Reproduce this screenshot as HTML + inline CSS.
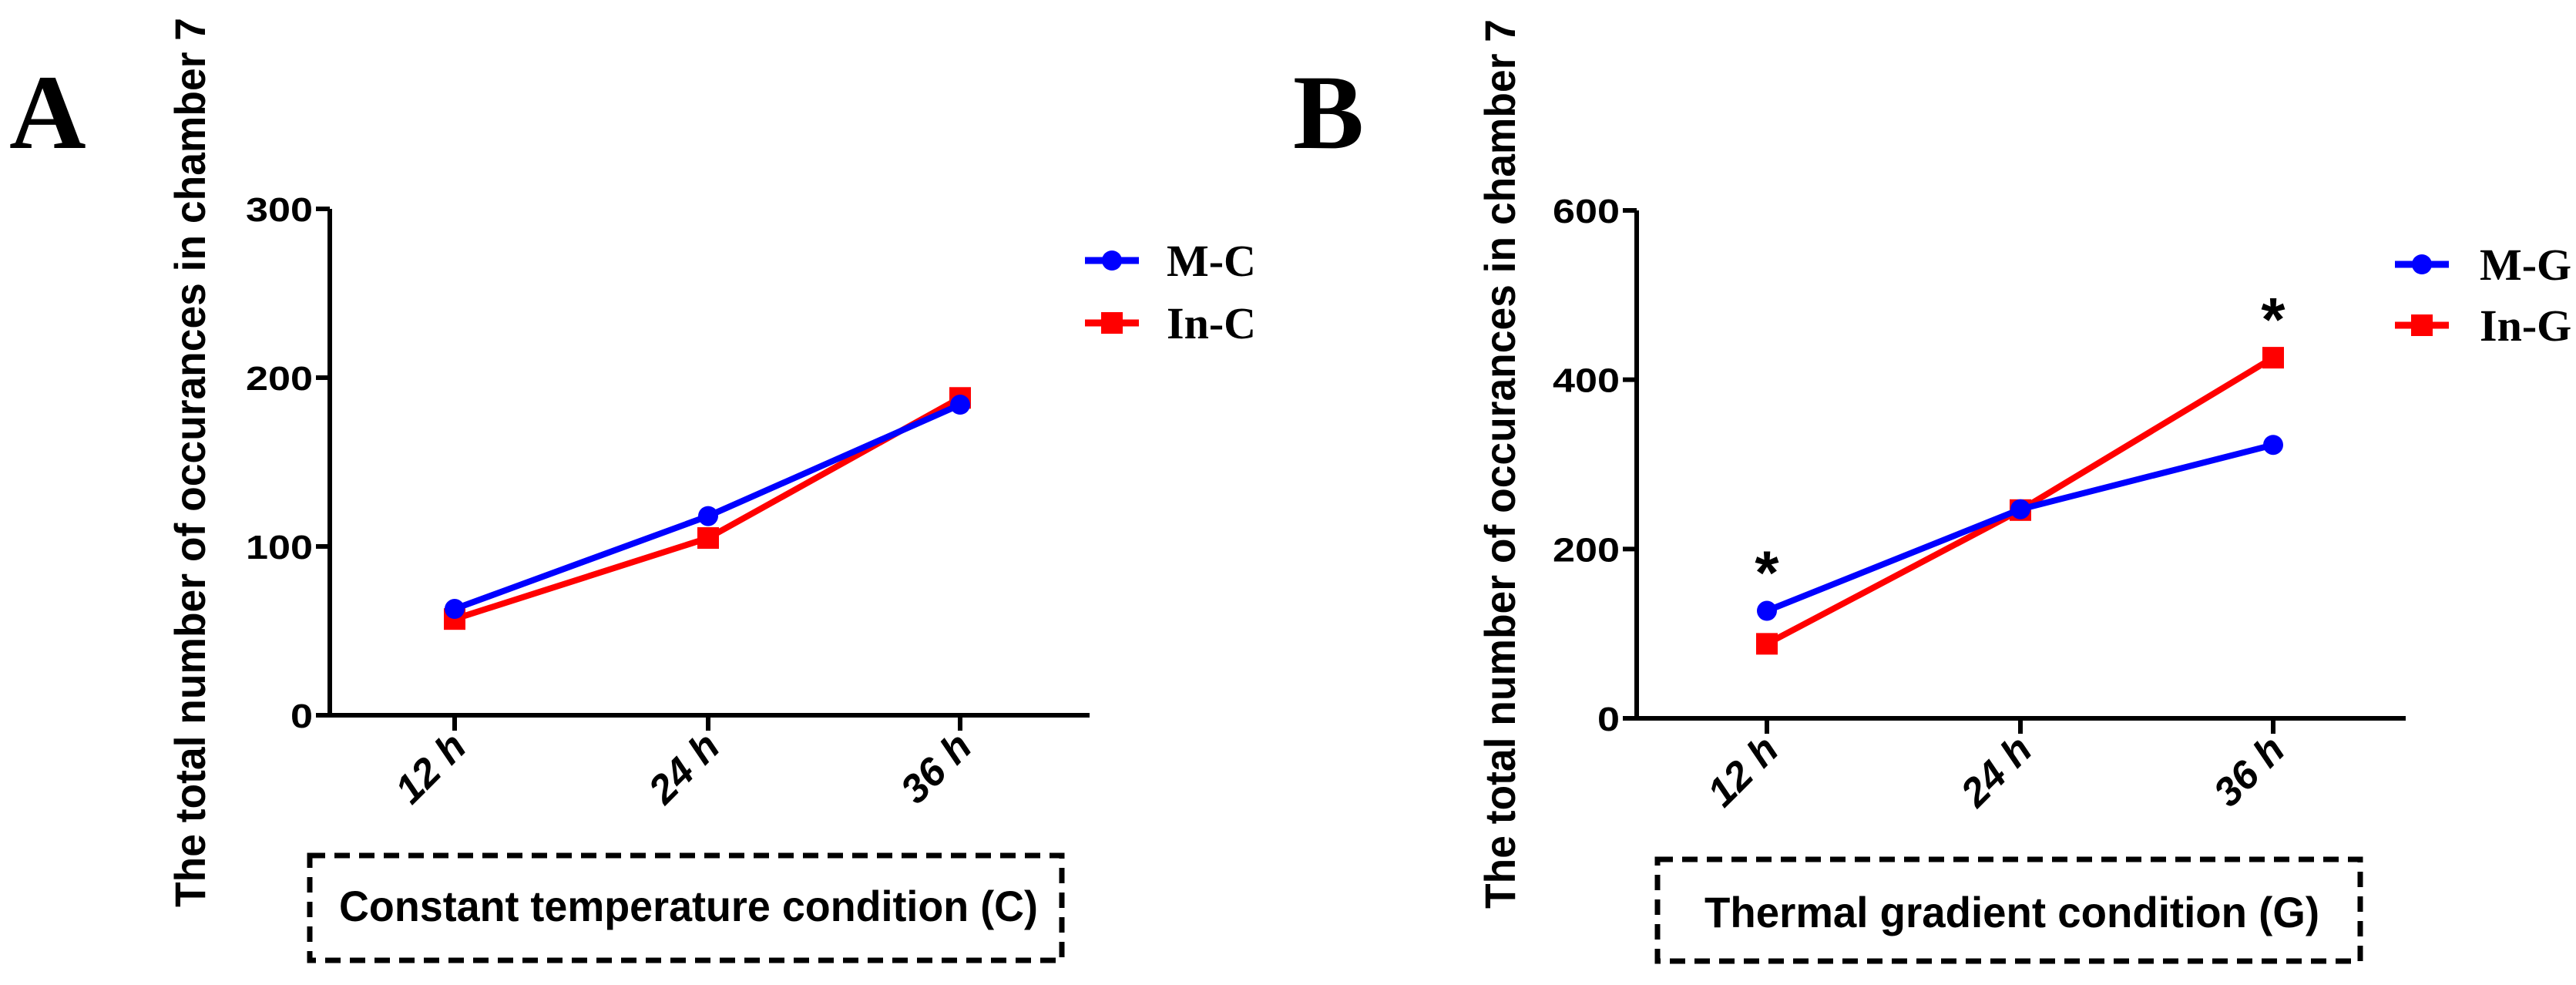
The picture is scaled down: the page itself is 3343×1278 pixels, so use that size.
<!DOCTYPE html>
<html><head><meta charset="utf-8"><style>
html,body{margin:0;padding:0;background:#fff;}
svg{display:block;}
text{font-family:"Liberation Sans",Arial,sans-serif;font-weight:bold;fill:#000;}
.serif{font-family:"Liberation Serif","Times New Roman",serif;font-weight:bold;}
</style></head><body>
<svg id="fig" width="3343" height="1278" viewBox="0 0 3343 1278" xmlns="http://www.w3.org/2000/svg">
<text class="serif" x="12" y="192" font-size="138">A</text>
<text class="serif" x="1678" y="192" font-size="138">B</text>
</svg>
<script>
// Panel A data
const categoriesA = ["12 h", "24 h", "36 h"];
const seriesMC = [63, 118, 184];
const seriesInC = [57, 105, 188];
const yTicksA = [0, 100, 200, 300];
// Panel B data
const categoriesB = ["12 h", "24 h", "36 h"];
const seriesMG = [127, 247, 323];
const seriesInG = [88, 246, 426];
const yTicksB = [0, 200, 400, 600];
const starsB = [0, 2];
const legendA = ["M-C", "In-C"];
const legendB = ["M-G", "In-G"];

const NS = "http://www.w3.org/2000/svg";
const svg = document.getElementById('fig');
function mk(tag, attrs, parent, txt){
  const e = document.createElementNS(NS, tag);
  for (const k in attrs) e.setAttribute(k, attrs[k]);
  if (txt !== undefined) e.textContent = txt;
  (parent || svg).appendChild(e);
  return e;
}

function panel(cfg){
  const g = mk('g', {});
  
  
  const yMax = cfg.yTicks[cfg.yTicks.length-1];
  const ys = v => cfg.y0 - (v / yMax) * (cfg.y0 - cfg.yTop);
  const xs = i => cfg.xTicks[i];
  const yt = mk('text', {x:0, y:0, 'font-size':56, 'text-anchor':'middle', textLength:1154, lengthAdjust:'spacingAndGlyphs',
    transform:`translate(${cfg.titleX},${cfg.titleY}) rotate(-90)`}, g, 'The total number of occurances in chamber 7');
  
  
  const ya = mk('line', {x1:cfg.ax, y1:cfg.yTop, x2:cfg.ax, y2:cfg.y0+3, stroke:'#000', 'stroke-width':6}, g);
  
  
  const xa = mk('line', {x1:cfg.ax-18, y1:cfg.y0, x2:cfg.xEnd, y2:cfg.y0, stroke:'#000', 'stroke-width':6}, g);
  
  
  cfg.yTicks.forEach(v => {
    const y = ys(v);
    mk('line', {x1:cfg.ax-18, y1:y, x2:cfg.ax, y2:y, stroke:'#000', 'stroke-width':6}, g);
    const s = String(v);
    const t = mk('text', {x:cfg.ax-22, y:y+16, 'font-size':44, 'text-anchor':'end', textLength:s.length*29, lengthAdjust:'spacingAndGlyphs'}, g, s);
    
    
  });
  cfg.cats.forEach((c, i) => {
    const x = xs(i);
    mk('line', {x1:x, y1:cfg.y0, x2:x, y2:cfg.y0+20, stroke:'#000', 'stroke-width':6}, g);
    const t = mk('text', {x:0, y:0, 'font-size':52, 'font-style':'italic', 'text-anchor':'end',
      transform:`translate(${x+18},${cfg.y0+44}) rotate(-45)`}, g, c);
    
    
  });
  function series(vals, color, shape, nm){
    const pts = vals.map((v,i)=>`${xs(i)},${ys(v)}`).join(' ');
    const pl = mk('polyline', {points:pts, fill:'none', stroke:color, 'stroke-width':8, 'stroke-linejoin':'round'}, g);
    
    
    vals.forEach((v,i)=>{
      let m;
      if (shape==='circle') m = mk('circle', {cx:xs(i), cy:ys(v), r:13, fill:color}, g);
      else m = mk('rect', {x:xs(i)-14, y:ys(v)-14, width:28, height:28, fill:color}, g);
      
      
    });
  }
  series(cfg.s2, '#ff0000', 'square', cfg.leg[1]);
  series(cfg.s1, '#0000ff', 'circle', cfg.leg[0]);
  (cfg.stars||[]).forEach(i => {
    const top = Math.max(cfg.s1[i], cfg.s2[i]);
    const st = mk('text', {x:xs(i), y:ys(top)+ (cfg.starOff), 'font-size':80, 'text-anchor':'middle'}, g, '*');
    
    
  });
  [[cfg.leg[0],'#0000ff','circle',cfg.legY[0]],[cfg.leg[1],'#ff0000','square',cfg.legY[1]]].forEach(([lab,col,sh,y])=>{
    const lg = mk('g', {}, g);
    
    
    mk('line', {x1:cfg.legX, y1:y, x2:cfg.legX+70, y2:y, stroke:col, 'stroke-width':9}, lg);
    if (sh==='circle') mk('circle', {cx:cfg.legX+35, cy:y, r:13, fill:col}, lg);
    else mk('rect', {x:cfg.legX+21, y:y-14, width:28, height:28, fill:col}, lg);
    mk('text', {x:cfg.legTX, y:y+20, 'font-size':58, class:'serif'}, lg, lab);
  });
  const b = cfg.box;
  const br = mk('rect', {x:b.x, y:b.y, width:b.w, height:b.h, fill:'none', stroke:'#000', 'stroke-width':7, 'stroke-dasharray':'20 12'}, g);
  
  
  const bt = mk('text', {x:b.tx, y:b.ty, 'font-size':56, textLength:b.tl, lengthAdjust:'spacingAndGlyphs'}, g, b.text);
  
  
}

panel({name:'panel-a-chart', cats:categoriesA, s1:seriesMC, s2:seriesInC, yTicks:yTicksA,
  ax:428, y0:928, yTop:271, xEnd:1414, xTicks:[590,919,1246], titleX:266, titleY:600,
  leg:legendA, legX:1408, legY:[338,419], legTX:1514,
  box:{x:402,y:1110,w:976,h:136,tx:440,ty:1195,tl:907,text:'Constant temperature condition (C)'}});
panel({name:'panel-b-chart', cats:categoriesB, s1:seriesMG, s2:seriesInG, yTicks:yTicksB,
  ax:2124, y0:932, yTop:273, xEnd:3122, xTicks:[2293,2622,2950], titleX:1966, titleY:602,
  leg:legendB, legX:3108, legY:[343,422], legTX:3218, stars:starsB, starOff:-22,
  box:{x:2151,y:1115,w:912,h:132,tx:2212,ty:1203,tl:798,text:'Thermal gradient condition (G)'}});
</script>
</body></html>
